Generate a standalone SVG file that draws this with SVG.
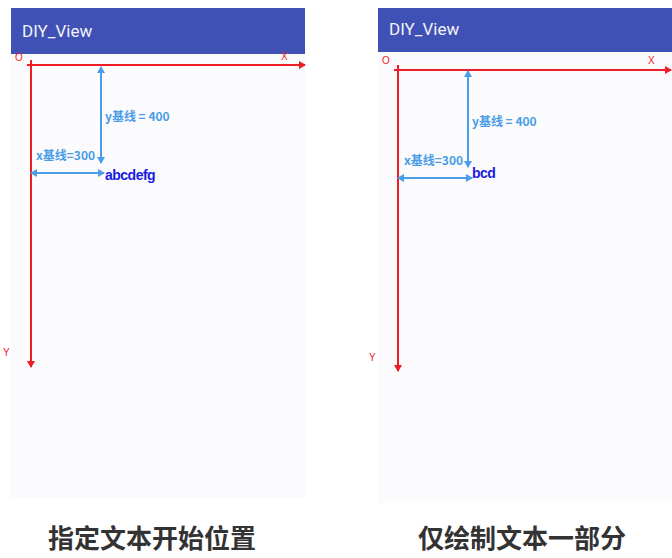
<svg xmlns="http://www.w3.org/2000/svg" width="672" height="558" viewBox="0 0 672 558">
<style>
.scr{fill:#fbfafc}
.bar{fill:#3f51b5}
.title{font-family:Roboto,"Liberation Sans",sans-serif;font-size:17px;fill:#f2f2f8}
.ax{stroke:#ee1c25;stroke-width:2;fill:none}
.axl{font-family:"Liberation Sans",sans-serif;font-size:10px;fill:#ee1c25}
.bl{stroke:#4a9de8;stroke-width:2;fill:none}
.blt{font-family:"Noto Sans CJK SC",sans-serif;font-size:12px;font-weight:bold;fill:#4a9de8}
.txt{font-family:"Liberation Sans",sans-serif;font-size:14px;font-weight:bold;fill:#1a1ae0;letter-spacing:-0.5px}
.cap{font-family:"Noto Sans CJK SC",sans-serif;font-size:26px;font-weight:bold;fill:#333;text-anchor:middle}
</style>
<defs>
<marker id="ra" markerWidth="8" markerHeight="8" refX="6" refY="4" orient="auto" markerUnits="userSpaceOnUse"><path d="M0,0 L7,4 L0,8 Z" fill="#ee1c25"/></marker>
<marker id="ba" markerWidth="8" markerHeight="8" refX="6" refY="4" orient="auto-start-reverse" markerUnits="userSpaceOnUse"><path d="M0,0 L7,4 L0,8 Z" fill="#4a9de8"/></marker>
</defs>
<rect width="672" height="558" fill="#fff"/>
<g id="left">
<rect class="scr" x="11" y="8" width="294" height="490"/>
<rect class="bar" x="11" y="8" width="294" height="46"/>
<text class="title" x="22" y="37">DIY_View</text>
</g>
<g id="right">
<rect class="scr" x="378" y="8" width="294" height="495"/>
<rect class="bar" x="378" y="8" width="294" height="44"/>
<text class="title" x="389" y="35">DIY_View</text>
</g>
<g id="connectors">
<line class="ax" x1="27" y1="65" x2="305" y2="65" marker-end="url(#ra)"/>
<line class="ax" x1="31" y1="60" x2="31" y2="367" marker-end="url(#ra)"/>
<line class="bl" x1="101" y1="67" x2="101" y2="163" marker-start="url(#ba)" marker-end="url(#ba)"/>
<line class="bl" x1="31" y1="173" x2="104" y2="173" marker-start="url(#ba)" marker-end="url(#ba)"/>
<line class="ax" x1="394" y1="70" x2="671" y2="70" marker-end="url(#ra)"/>
<line class="ax" x1="398" y1="65" x2="398" y2="371" marker-end="url(#ra)"/>
<line class="bl" x1="468" y1="71" x2="468" y2="167" marker-start="url(#ba)" marker-end="url(#ba)"/>
<line class="bl" x1="398" y1="178" x2="472" y2="178" marker-start="url(#ba)" marker-end="url(#ba)"/>
</g>
<g id="labels">
<text class="axl" x="15" y="61">O</text>
<text class="axl" x="281" y="60">X</text>
<text class="axl" x="3" y="356">Y</text>
<text class="blt" x="105" y="121">y基线 = 400</text>
<text class="blt" x="36" y="160">x基线=300</text>
<text class="txt" x="105" y="180">abcdefg</text>
<text class="axl" x="382" y="64">O</text>
<text class="axl" x="648" y="64">X</text>
<text class="axl" x="369" y="361">Y</text>
<text class="blt" x="472" y="126">y基线 = 400</text>
<text class="blt" x="404" y="165">x基线=300</text>
<text class="txt" x="472" y="178">bcd</text>
<text class="cap" x="152" y="548">指定文本开始位置</text>
<text class="cap" x="522" y="548">仅绘制文本一部分</text>
</g>
</svg>
